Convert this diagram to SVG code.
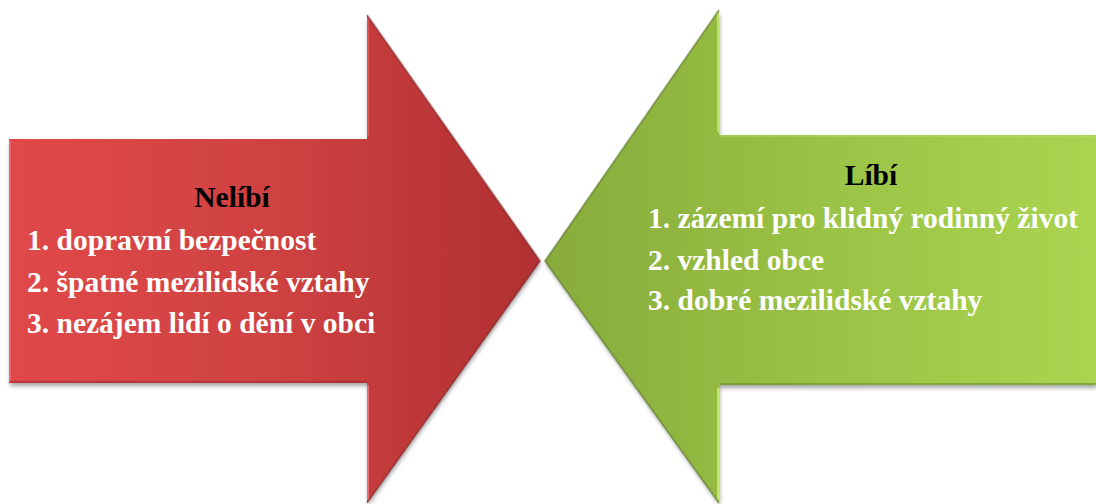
<svg xmlns="http://www.w3.org/2000/svg" width="1096" height="504" viewBox="0 0 1096 504">
  <defs>
    <linearGradient id="redGrad" gradientUnits="userSpaceOnUse" x1="9" y1="0" x2="540" y2="0">
      <stop offset="0" stop-color="#e04848"/>
      <stop offset="0.5" stop-color="#cf4242"/>
      <stop offset="1" stop-color="#b02f30"/>
    </linearGradient>
    <linearGradient id="greenGrad" gradientUnits="userSpaceOnUse" x1="545" y1="0" x2="1096" y2="0">
      <stop offset="0" stop-color="#88ab3c"/>
      <stop offset="0.5" stop-color="#9ac245"/>
      <stop offset="1" stop-color="#aad450"/>
    </linearGradient>
    <filter id="shadow" x="-5%" y="-5%" width="110%" height="115%">
      <feGaussianBlur in="SourceAlpha" stdDeviation="2"/>
      <feOffset dx="1" dy="3" result="b"/>
      <feComponentTransfer><feFuncA type="linear" slope="0.35"/></feComponentTransfer>
      <feMerge><feMergeNode/><feMergeNode in="SourceGraphic"/></feMerge>
    </filter>
    <style>
      .lbl { font-family: "Liberation Serif", "Times New Roman", serif; font-weight: bold; font-size: 29.5px; }
      .title { fill: #000000; }
      .item { fill: #ffffff; }
      .edge { fill: none; stroke-width: 2; }
    </style>
  </defs>
  <g id="node-nelibi">
    <path d="M9,139 L367,139 L367,15 L540,261 L367,503 L367,383 L9,383 Z" fill="url(#redGrad)" filter="url(#shadow)"/>
    <path d="M10,141 L10,381" class="edge" stroke="#f07070" opacity="0.8"/>
    <path d="M368,18 L368,137" class="edge" stroke="#e86060" opacity="0.7"/>
    <path d="M368,385 L368,500" class="edge" stroke="#f07a7a" opacity="0.8"/>
    <path d="M10,382 L366,382" class="edge" stroke="#9a2626" opacity="0.5"/>
    <path d="M367,15 L540,261 L367,503" class="edge" stroke="#7a1e1e" opacity="0.5" stroke-width="1.5"/>
    <text class="lbl title" x="232" y="207" text-anchor="middle">Nelíbí</text>
    <text class="lbl item" x="27" y="250">1. dopravní bezpečnost</text>
    <text class="lbl item" x="27" y="292">2. špatné mezilidské vztahy</text>
    <text class="lbl item" x="27" y="333">3. nezájem lidí o dění v obci</text>
  </g>
  <g id="node-libi">
    <path d="M1096,135 L719,135 L719,10 L545,261 L719,503 L719,385 L1096,385 Z" fill="url(#greenGrad)" filter="url(#shadow)"/>
    <path d="M718,13 L718,132" class="edge" stroke="#c8ec70" opacity="0.8"/>
    <path d="M718,388 L718,500" class="edge" stroke="#d0f080" opacity="0.8"/>
    <path d="M720,384 L1096,384" class="edge" stroke="#6e8e2a" opacity="0.6"/>
    <path d="M720,136 L1096,136" class="edge" stroke="#b8dc68" opacity="0.5"/>
    <path d="M719,10 L545,261 L719,503" class="edge" stroke="#4e6a1e" opacity="0.5" stroke-width="1.5"/>
    <text class="lbl title" x="871" y="185" text-anchor="middle">Líbí</text>
    <text class="lbl item" x="648" y="228">1. zázemí pro klidný rodinný život</text>
    <text class="lbl item" x="648" y="270">2. vzhled obce</text>
    <text class="lbl item" x="648" y="310">3. dobré mezilidské vztahy</text>
  </g>
  <g id="connectors"/>
</svg>
